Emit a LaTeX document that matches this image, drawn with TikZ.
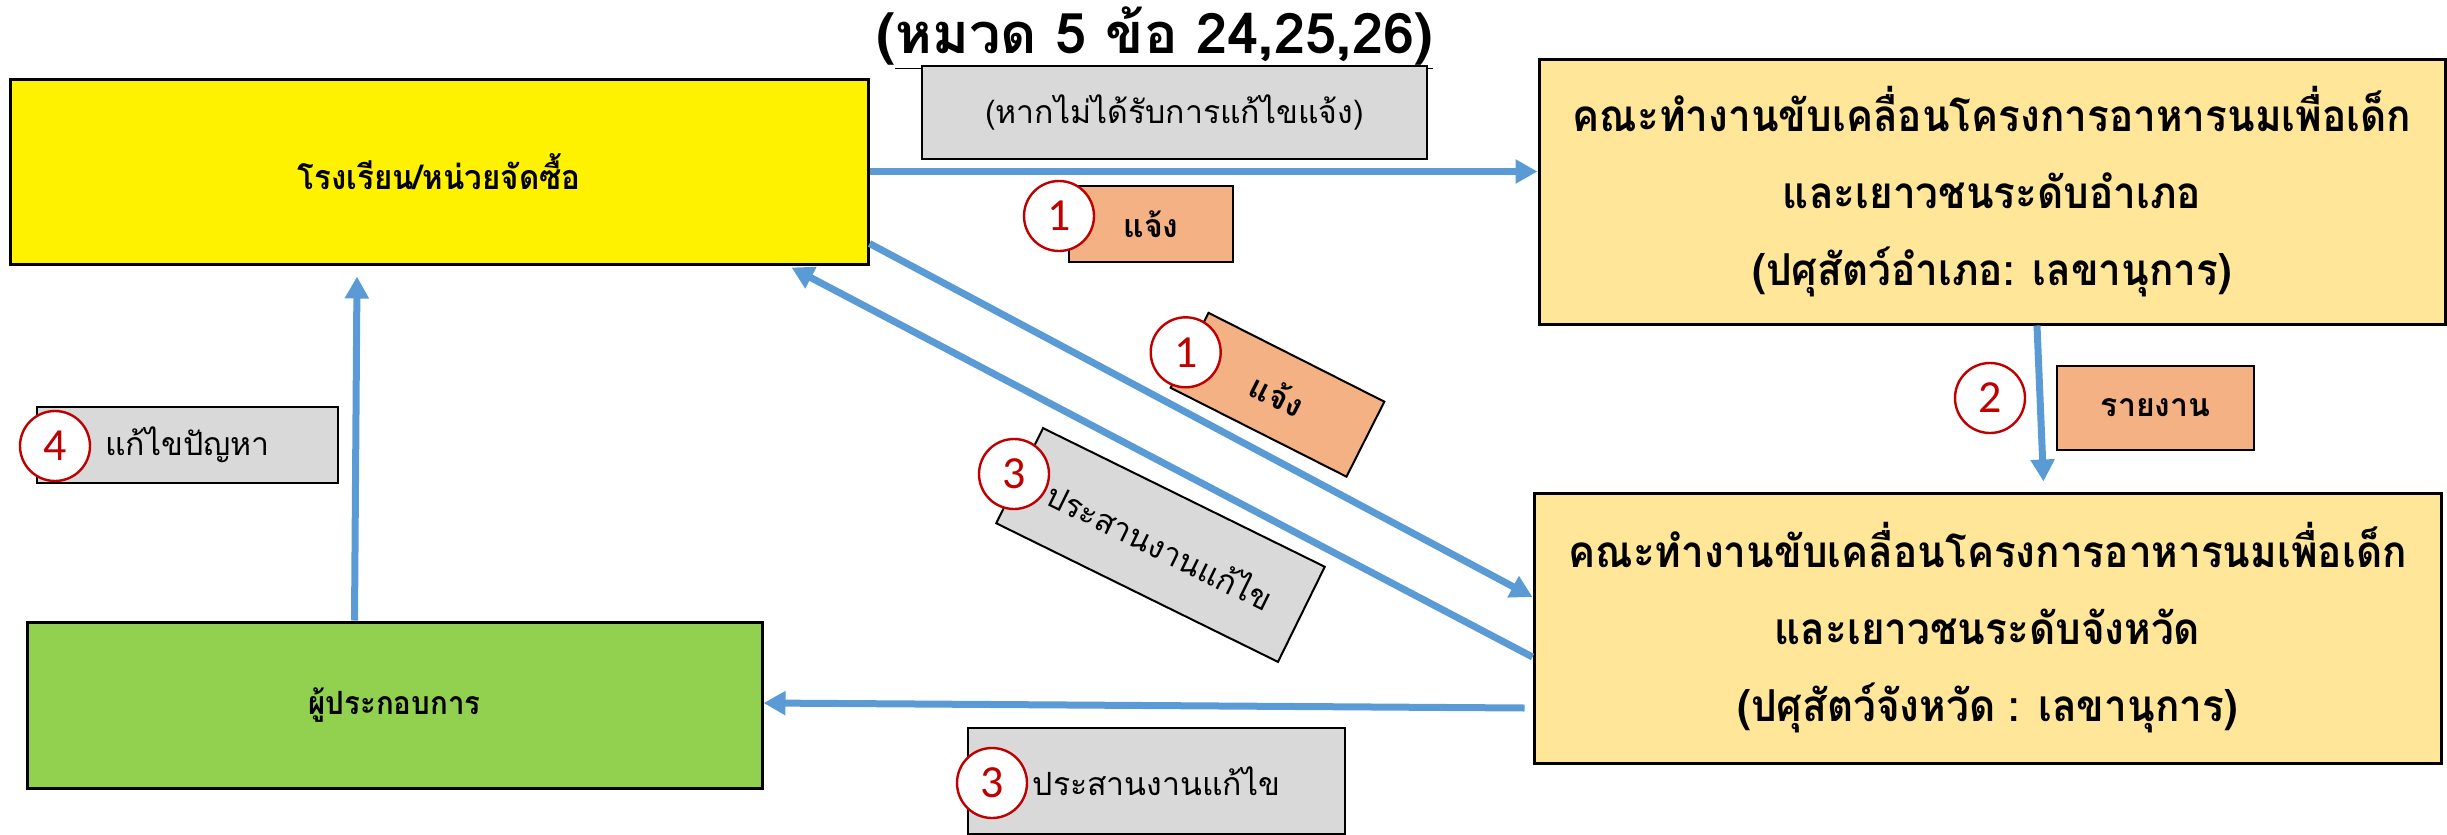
\documentclass[tikz,border=0pt]{standalone}
\usepackage{fontspec}
\setmainfont{Loma}[Script=Thai]
\newfontfamily\thainarrow{Loma}[Script=Thai, FakeStretch=0.92]
\newfontfamily\numfont{Carlito}
\usetikzlibrary{arrows.meta}
\definecolor{arrowblue}{HTML}{5B9BD5}
\definecolor{boxgold}{HTML}{FFE699}
\definecolor{boxgreen}{HTML}{92D050}
\definecolor{lblorange}{HTML}{F4B183}
\definecolor{lblgray}{HTML}{D9D9D9}
\definecolor{numred}{HTML}{C00000}
\begin{document}
\begin{tikzpicture}[x=0.5pt,y=-0.5pt,
  mainbox/.style={draw=black, line width=1.5pt, inner sep=0pt, align=center},
  lbl/.style={draw=black, line width=1pt, inner sep=0pt, align=center},
  num/.style={circle, draw=numred, fill=white, line width=1.2pt, text=numred,
    font=\numfont\fontsize{23}{23}\selectfont, inner sep=0pt, minimum size=35pt},
  arr/.style={draw=arrowblue, line width=3.5pt, -{Triangle[length=11pt,width=11.5pt]}},
  bigtext/.style={font=\thainarrow\bfseries\fontsize{22}{38.5}\selectfont},
  lbltext/.style={font=\fontsize{16}{16}\selectfont},
  lblbold/.style={font=\bfseries\fontsize{16}{16}\selectfont}
]
\useasboundingbox (0,0) rectangle (2447,835);

% title
\node[font=\bfseries\fontsize{28}{28}\selectfont] (title) at (1155,38) {(\underline{หมวด 5 ข้อ 24,25,26)}};

% main boxes
\node[mainbox, fill=yellow, minimum width=429pt, minimum height=92.5pt,
  font=\thainarrow\bfseries\fontsize{17}{17}\selectfont] (school) at (439,171.5) {โรงเรียน/หน่วยจัดซื้อ};
\node[mainbox, fill=boxgold, minimum width=453pt, minimum height=132.5pt, bigtext] (district) at (1992,191.5)
  {คณะทำงานขับเคลื่อนโครงการอาหารนมเพื่อเด็ก\\และเยาวชนระดับอำเภอ\\(ปศุสัตว์อำเภอ: เลขานุการ)};
\node[mainbox, fill=boxgold, minimum width=453.5pt, minimum height=135pt, bigtext] (province) at (1987.5,628)
  {คณะทำงานขับเคลื่อนโครงการอาหารนมเพื่อเด็ก\\และเยาวชนระดับจังหวัด\\(ปศุสัตว์จังหวัด : เลขานุการ)};
\node[mainbox, fill=boxgreen, minimum width=367.5pt, minimum height=83pt,
  font=\thainarrow\bfseries\fontsize{16}{16}\selectfont] (operator) at (394.5,705) {ผู้ประกอบการ};

% connectors
\draw[arr] (school.east) -- (school.east -| district.west);
\draw[arr] ([yshift=11pt]school.south east) -- ([yshift=15.5pt]province.west);
\draw[arr] ([yshift=-14.5pt]province.west) -- ([xshift=-39pt,yshift=-1pt]school.south east);
\draw[arr] ([xshift=22.5pt]district.south) -- ([xshift=28pt,yshift=5pt]province.north);
\draw[arr] ([xshift=-4pt,yshift=-40pt]province.west) -- ([yshift=1pt]operator.east);
\draw[arr] ([xshift=-20pt]operator.north) -- ([xshift=-41pt,yshift=-5.5pt]school.south);

% labels
\node[lbl, fill=lblgray, minimum width=252.5pt, minimum height=46.5pt, lbltext] (gtop) at (1174.5,112.5) {(หากไม่ได้รับการแก้ไขแจ้ง)};
\node[lbl, fill=lblorange, minimum width=82pt, minimum height=38pt, lblbold] (otop) at (1151,224) {แจ้ง};
\node[num] (n1a) at (1059,216) {1};

\node[lbl, fill=lblorange, minimum width=98.5pt, minimum height=42pt, lblbold] (orep) at (2155.5,408) {รายงาน};
\node[num] (n2) at (1990,398) {2};

\node[lbl, fill=lblorange, minimum width=98.5pt, minimum height=42pt, lblbold, rotate=-26.8] (odiag) at (1277.5,394.75) {แจ้ง};
\node[num] (n1b) at (1185.7,352.3) {1};

\node[lbl, fill=lblgray, minimum width=157pt, minimum height=53pt, lbltext, rotate=-26.2] (gdiag) at (1160.5,545) {ประสานงานแก้ไข};
\node[num] (n3a) at (1014,474) {3};

\node[lbl, fill=lblgray, minimum width=150.5pt, minimum height=38pt, lbltext] (gleft) at (187.5,445) {แก้ไขปัญหา};
\node[num] (n4) at (55,446) {4};

\node[lbl, fill=lblgray, minimum width=188.5pt, minimum height=53pt, lbltext] (gbot) at (1156.5,781) {ประสานงานแก้ไข};
\node[num] (n3b) at (992,783) {3};
\end{tikzpicture}
\end{document}
